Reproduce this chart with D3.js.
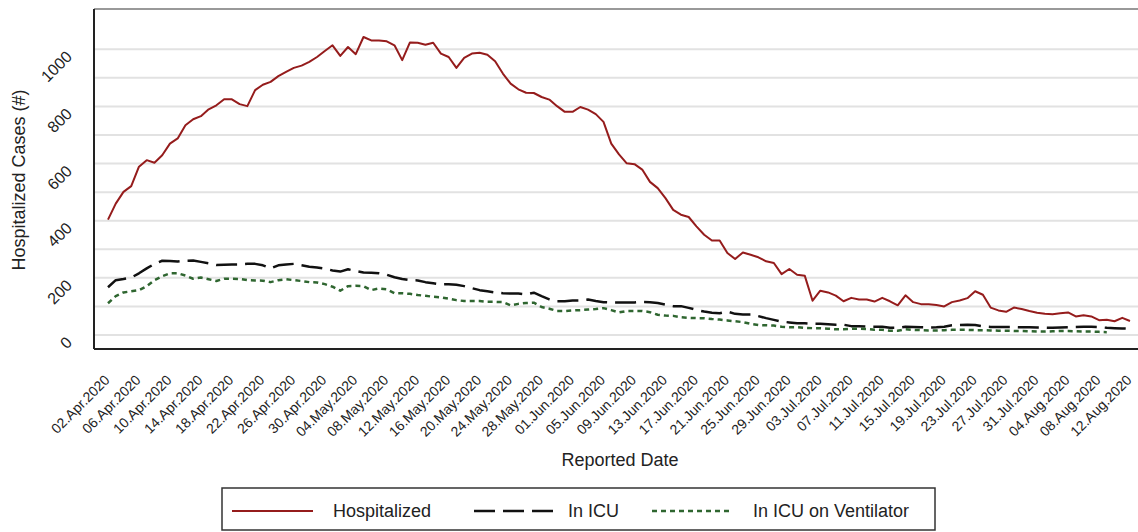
<!DOCTYPE html>
<meta charset="utf-8">
<style type="text/css">
body {
  margin: 0;
  background: #fff;
  font-family: "Liberation Sans", Arial, sans-serif;
}

.axis text {
  font-size: 14px;
  fill: #222;
}

.axis.y text {
  font-size: 16px;
}

.grid line {
  stroke: #e2e2e2;
  stroke-width: 2px;
}

.label {
  font-size: 18px;
  fill: #222;
}

.legend text {
  font-size: 18px;
  fill: #222;
}
</style>
<body>
<script src="https://cdn.jsdelivr.net/npm/d3@7/dist/d3.min.js"></script>
<script>
var startDate = new Date(2020, 3, 2);

var hospitalized = [
  404,460,501,521,589,612,603,629,670,688,734,755,766,790,804,825,825,808,801,857,
  876,886,906,921,935,943,956,973,994,1014,977,1008,983,1043,1031,1031,1028,1014,962,1024,
  1023,1016,1023,985,973,935,970,985,988,981,958,915,880,860,848,847,833,824,801,781,
  781,798,789,773,746,670,632,601,598,579,536,514,479,438,421,413,380,351,331,331,
  287,266,289,281,272,258,252,213,231,211,207,120,155,149,138,118,130,124,124,117,
  130,118,104,139,115,108,108,105,100,115,121,129,153,141,96,86,81,96,91,84,
  78,74,73,76,79,65,69,65,52,53,48,60,49
];

var inICU = [
  167,192,196,201,216,233,249,260,259,257,260,261,256,251,245,246,247,247,249,249,
  244,233,244,247,249,244,239,236,232,226,222,230,224,219,218,216,211,202,196,192,
  191,185,181,177,178,176,171,164,157,153,149,146,145,145,142,148,136,125,118,118,
  121,121,124,119,115,114,114,114,114,116,115,112,106,101,101,95,88,82,78,76,
  82,74,72,72,66,59,53,47,44,41,41,39,39,38,36,36,31,31,29,29,
  29,25,25,29,28,27,26,27,29,34,35,36,35,30,28,28,28,28,27,27,
  26,26,25,26,27,28,29,29,28,25,24,23,22
];

var onVentilator = [
  111,136,149,153,157,171,192,206,216,216,208,197,201,195,189,197,197,196,192,191,
  190,185,192,195,192,189,185,184,178,169,155,171,172,171,157,163,160,146,146,144,
  140,137,134,132,127,122,119,119,119,116,116,115,104,109,112,113,98,92,84,84,
  86,87,89,91,94,87,79,84,84,84,80,71,68,67,62,60,59,59,56,54,
  51,48,45,39,35,34,33,29,27,27,25,24,24,22,20,20,22,22,21,18,
  18,15,15,20,18,17,16,16,17,18,18,18,17,17,16,15,15,14,14,13,
  12,12,13,14,14,13,12,12,11,10
];

var gridValues = d3.range(0, 1001, 100);
var yTickValues = [0, 200, 400, 600, 800, 1000];

var seriesNames = ["Hospitalized", "In ICU", "In ICU on Ventilator"];
var seriesColors = ["#951c1c", "#111111", "#2f6630"];
var seriesDash = [null, "21,8", "5,4"];
var seriesWidth = [2, 2.5, 2.5];

var dates = hospitalized.map(function(d, i) { return d3.timeDay.offset(startDate, i); });
var tickDates = dates.filter(function(d, i) { return i % 4 === 0; });

var W = 1138, H = 532;
var plot = { left: 94, top: 9, right: 1145, bottom: 349 };

var svg = d3.select("body")
  .append("svg")
    .attr("width", W)
    .attr("height", H);

var x = d3.scaleTime()
  .domain([dates[0], dates[dates.length - 1]])
  .range([108, 1130]);

var y = d3.scaleLinear()
  .domain([0, 1000])
  .range([335, 49.3]);

// grid lines
svg.append("g")
  .attr("class", "grid")
  .selectAll("line")
  .data(gridValues)
  .enter().append("line")
    .attr("x1", plot.left)
    .attr("x2", plot.right)
    .attr("y1", function(d) { return y(d); })
    .attr("y2", function(d) { return y(d); });

// lines
var series = [hospitalized, inICU, onVentilator];
var line = d3.line()
  .x(function(d, i) { return x(dates[i]); })
  .y(function(d) { return y(d); });

series.forEach(function(values, k) {
  svg.append("path")
    .datum(values)
    .attr("fill", "none")
    .attr("stroke", seriesColors[k])
    .attr("stroke-width", seriesWidth[k])
    .attr("stroke-linejoin", "round")
    .attr("stroke-dasharray", seriesDash[k])
    .attr("d", line);
});

// frame
svg.append("line")
  .attr("x1", plot.left).attr("x2", plot.right)
  .attr("y1", plot.top).attr("y2", plot.top)
  .attr("stroke", "#777").attr("stroke-width", 1.5);
svg.append("line")
  .attr("x1", plot.left).attr("x2", plot.left)
  .attr("y1", plot.top).attr("y2", plot.bottom)
  .attr("stroke", "#222").attr("stroke-width", 2);
svg.append("line")
  .attr("x1", plot.left).attr("x2", plot.right)
  .attr("y1", plot.bottom).attr("y2", plot.bottom)
  .attr("stroke", "#222").attr("stroke-width", 2);

// x axis
var xAxis = d3.axisBottom(x)
  .tickValues(tickDates)
  .tickSize(0)
  .tickFormat(d3.timeFormat("%d.%b.%Y"));

var gx = svg.append("g")
  .attr("class", "x axis")
  .attr("transform", "translate(0," + plot.bottom + ")")
  .call(xAxis);
gx.select(".domain").remove();
gx.selectAll("text")
  .attr("x", 0)
  .attr("y", 0)
  .attr("dy", 0)
  .attr("text-anchor", "end")
  .attr("transform", "translate(2,32) rotate(-45)");

// y axis
var yAxis = d3.axisLeft(y)
  .tickValues(yTickValues)
  .tickSize(0)
  .tickFormat(d3.format("d"));

var gy = svg.append("g")
  .attr("class", "y axis")
  .attr("transform", "translate(" + plot.left + ",0)")
  .call(yAxis);
gy.select(".domain").remove();
gy.selectAll("text")
  .attr("x", 0)
  .attr("dy", 0)
  .attr("text-anchor", "end")
  .attr("transform", "translate(-21,8) rotate(-45)");

// axis titles
svg.append("text")
  .attr("class", "label")
  .attr("text-anchor", "middle")
  .attr("transform", "translate(25,180) rotate(-90)")
  .text("Hospitalized Cases (#)");

svg.append("text")
  .attr("class", "label")
  .attr("text-anchor", "middle")
  .attr("x", 620)
  .attr("y", 466)
  .text("Reported Date");

// legend
var legend = svg.append("g").attr("class", "legend");
legend.append("rect")
  .attr("x", 222)
  .attr("y", 488)
  .attr("width", 713)
  .attr("height", 42)
  .attr("fill", "#fff")
  .attr("stroke", "#333")
  .attr("stroke-width", 1.5);

var legendLineX = [232, 474, 652];
var legendTextX = [333, 568, 753];

seriesNames.forEach(function(name, k) {
  legend.append("line")
    .attr("x1", legendLineX[k])
    .attr("x2", legendLineX[k] + 81)
    .attr("y1", 511)
    .attr("y2", 511)
    .attr("stroke", seriesColors[k])
    .attr("stroke-width", seriesWidth[k])
    .attr("stroke-dasharray", seriesDash[k]);
  legend.append("text")
    .attr("x", legendTextX[k])
    .attr("y", 517)
    .text(name);
});
</script>
</body>
